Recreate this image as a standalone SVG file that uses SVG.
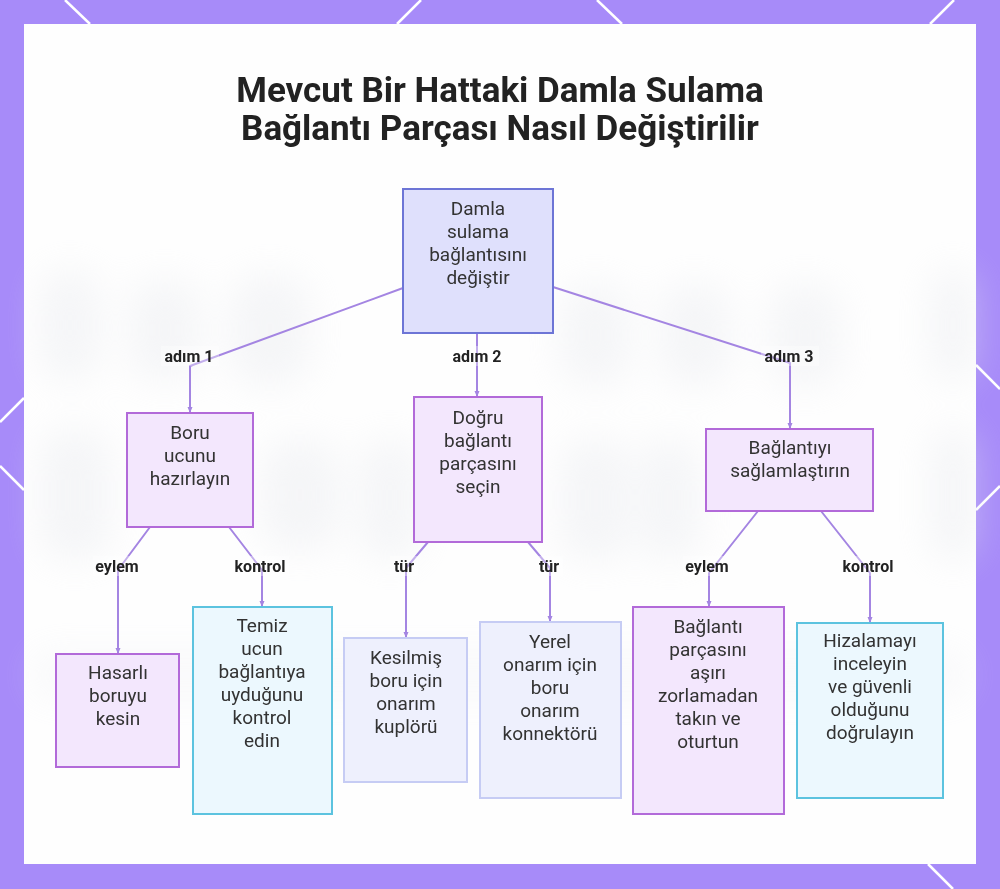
<svg xmlns="http://www.w3.org/2000/svg" width="1000" height="889" viewBox="0 0 1000 889">
<defs>
<style>
.border{stroke:#ffffff;stroke-width:2.5;fill:none}
.edge{fill:none;stroke:#a485e2;stroke-width:2;stroke-linejoin:round}
.lbl{font-family:Roboto,"Liberation Sans",sans-serif;font-size:16px;font-weight:bold;fill:#222;text-anchor:middle}
.lblbg{fill:#ffffff;opacity:0.35}
.nt{font-family:Roboto,"Liberation Sans",sans-serif;font-size:19px;fill:#333;text-anchor:middle}
.title{font-family:Roboto,"Liberation Sans",sans-serif;font-size:35px;font-weight:bold;fill:#222;text-anchor:middle}
.root{fill:#dfe0fc;stroke:#6d75d6;stroke-width:2}
.purple{fill:#f3e7fd;stroke:#b26ad9;stroke-width:2}
.indigo{fill:#eef0fd;stroke:#c6ccf4;stroke-width:2}
.cyan{fill:#ecf8fe;stroke:#5cc3df;stroke-width:2}
.blob{fill:#e8eaef}
</style>
<filter id="blur" x="-30%" y="-30%" width="160%" height="160%"><feGaussianBlur stdDeviation="18"/></filter>
<marker id="arr" viewBox="0 0 6 6" refX="5" refY="3" markerWidth="6" markerHeight="6" orient="auto" markerUnits="userSpaceOnUse"><path d="M0,0.5 L6,3 L0,5.5 z" fill="#a485e2"/></marker>
</defs>
<rect x="0" y="0" width="1000" height="889" fill="#a78bf9"/>
<g class="border">
<line x1="65" y1="0" x2="90" y2="24"/>
<line x1="397" y1="24" x2="421" y2="0"/>
<line x1="597" y1="0" x2="622" y2="24"/>
<line x1="930" y1="24" x2="954" y2="0"/>
<line x1="0" y1="422" x2="24" y2="398"/>
<line x1="0" y1="466" x2="24" y2="490"/>
<line x1="976" y1="365" x2="1000" y2="389"/>
<line x1="976" y1="510" x2="1000" y2="486"/>
<line x1="928" y1="864" x2="953" y2="889"/>
</g>
<rect x="24" y="24" width="952" height="840" fill="#fefefe"/>
<g id="backdrop" filter="url(#blur)" opacity="0.4">
<rect class="blob" x="40" y="270" width="60" height="110" rx="25"/>
<rect class="blob" x="130" y="280" width="70" height="100" rx="25"/>
<rect class="blob" x="230" y="275" width="80" height="110" rx="30"/>
<rect class="blob" x="560" y="285" width="70" height="100" rx="25"/>
<rect class="blob" x="660" y="285" width="70" height="100" rx="25"/>
<rect class="blob" x="770" y="285" width="70" height="100" rx="25"/>
<rect class="blob" x="930" y="270" width="46" height="110" rx="20"/>
<rect class="blob" x="40" y="430" width="70" height="130" rx="25"/>
<rect class="blob" x="260" y="440" width="80" height="110" rx="30"/>
<rect class="blob" x="360" y="440" width="60" height="120" rx="25"/>
<rect class="blob" x="560" y="440" width="70" height="120" rx="25"/>
<rect class="blob" x="640" y="440" width="60" height="120" rx="25"/>
<rect class="blob" x="930" y="430" width="46" height="130" rx="20"/>
<rect class="blob" x="30" y="650" width="940" height="50" rx="20" opacity="0.5"/>
</g>
<g id="title">
<text class="title" x="500" y="102">Mevcut Bir Hattaki Damla Sulama</text>
<text class="title" x="500" y="140">Bağlantı Parçası Nasıl Değiştirilir</text>
</g>
<g id="connectors">
<path class="edge" d="M403,288 L190,366 L190,412" marker-end="url(#arr)"/>
<path class="edge" d="M477,333 L477,396" marker-end="url(#arr)"/>
<path class="edge" d="M553,287 L790,363 L790,428" marker-end="url(#arr)"/>
<path class="edge" d="M150,527 L118,570 L118,653" marker-end="url(#arr)"/>
<path class="edge" d="M229,527 L262,570 L262,606" marker-end="url(#arr)"/>
<path class="edge" d="M428,542 L406,568 L406,637" marker-end="url(#arr)"/>
<path class="edge" d="M528,542 L550,568 L550,621" marker-end="url(#arr)"/>
<path class="edge" d="M758,511 L709,573 L709,606" marker-end="url(#arr)"/>
<path class="edge" d="M821,511 L870,573 L870,622" marker-end="url(#arr)"/>
<rect class="lblbg" x="161" y="346" width="58" height="20"/>
<text class="lbl" x="189" y="362">adım 1</text>
<rect class="lblbg" x="449" y="346" width="58" height="20"/>
<text class="lbl" x="477" y="362">adım 2</text>
<rect class="lblbg" x="761" y="346" width="58" height="20"/>
<text class="lbl" x="789" y="362">adım 3</text>
<rect class="lblbg" x="93" y="556" width="48" height="20"/>
<text class="lbl" x="117" y="572">eylem</text>
<rect class="lblbg" x="231" y="556" width="58" height="20"/>
<text class="lbl" x="260" y="572">kontrol</text>
<rect class="lblbg" x="390" y="556" width="28" height="20"/>
<text class="lbl" x="404" y="572">tür</text>
<rect class="lblbg" x="535" y="556" width="28" height="20"/>
<text class="lbl" x="549" y="572">tür</text>
<rect class="lblbg" x="683" y="556" width="48" height="20"/>
<text class="lbl" x="707" y="572">eylem</text>
<rect class="lblbg" x="839" y="556" width="58" height="20"/>
<text class="lbl" x="868" y="572">kontrol</text>
</g>
<g id="n-root">
<rect class="root" x="403" y="189" width="150" height="144"/>
<text class="nt"><tspan x="478" y="215">Damla</tspan><tspan x="478" y="238">sulama</tspan><tspan x="478" y="261">bağlantısını</tspan><tspan x="478" y="284">değiştir</tspan></text>
</g>
<g id="n-boru">
<rect class="purple" x="127" y="413" width="126" height="114"/>
<text class="nt"><tspan x="190" y="439">Boru</tspan><tspan x="190" y="462">ucunu</tspan><tspan x="190" y="485">hazırlayın</tspan></text>
</g>
<g id="n-dogru">
<rect class="purple" x="414" y="397" width="128" height="145"/>
<text class="nt"><tspan x="478" y="424">Doğru</tspan><tspan x="478" y="447">bağlantı</tspan><tspan x="478" y="470">parçasını</tspan><tspan x="478" y="493">seçin</tspan></text>
</g>
<g id="n-sagla">
<rect class="purple" x="706" y="429" width="167" height="82"/>
<text class="nt"><tspan x="790" y="454">Bağlantıyı</tspan><tspan x="790" y="477">sağlamlaştırın</tspan></text>
</g>
<g id="n-hasarli">
<rect class="purple" x="56" y="654" width="123" height="113"/>
<text class="nt"><tspan x="118" y="679">Hasarlı</tspan><tspan x="118" y="702">boruyu</tspan><tspan x="118" y="725">kesin</tspan></text>
</g>
<g id="n-temiz">
<rect class="cyan" x="193" y="607" width="139" height="207"/>
<text class="nt"><tspan x="262" y="632">Temiz</tspan><tspan x="262" y="655">ucun</tspan><tspan x="262" y="678">bağlantıya</tspan><tspan x="262" y="701">uyduğunu</tspan><tspan x="262" y="724">kontrol</tspan><tspan x="262" y="747">edin</tspan></text>
</g>
<g id="n-kesilmis">
<rect class="indigo" x="344" y="638" width="123" height="144"/>
<text class="nt"><tspan x="406" y="664">Kesilmiş</tspan><tspan x="406" y="687">boru için</tspan><tspan x="406" y="710">onarım</tspan><tspan x="406" y="733">kuplörü</tspan></text>
</g>
<g id="n-yerel">
<rect class="indigo" x="480" y="622" width="141" height="176"/>
<text class="nt"><tspan x="550" y="648">Yerel</tspan><tspan x="550" y="671">onarım için</tspan><tspan x="550" y="694">boru</tspan><tspan x="550" y="717">onarım</tspan><tspan x="550" y="740">konnektörü</tspan></text>
</g>
<g id="n-baglanti">
<rect class="purple" x="633" y="607" width="151" height="207"/>
<text class="nt"><tspan x="708" y="633">Bağlantı</tspan><tspan x="708" y="656">parçasını</tspan><tspan x="708" y="679">aşırı</tspan><tspan x="708" y="702">zorlamadan</tspan><tspan x="708" y="725">takın ve</tspan><tspan x="708" y="748">oturtun</tspan></text>
</g>
<g id="n-hizala">
<rect class="cyan" x="797" y="623" width="146" height="175"/>
<text class="nt"><tspan x="870" y="647">Hizalamayı</tspan><tspan x="870" y="670">inceleyin</tspan><tspan x="870" y="693">ve güvenli</tspan><tspan x="870" y="716">olduğunu</tspan><tspan x="870" y="739">doğrulayın</tspan></text>
</g>
</svg>
